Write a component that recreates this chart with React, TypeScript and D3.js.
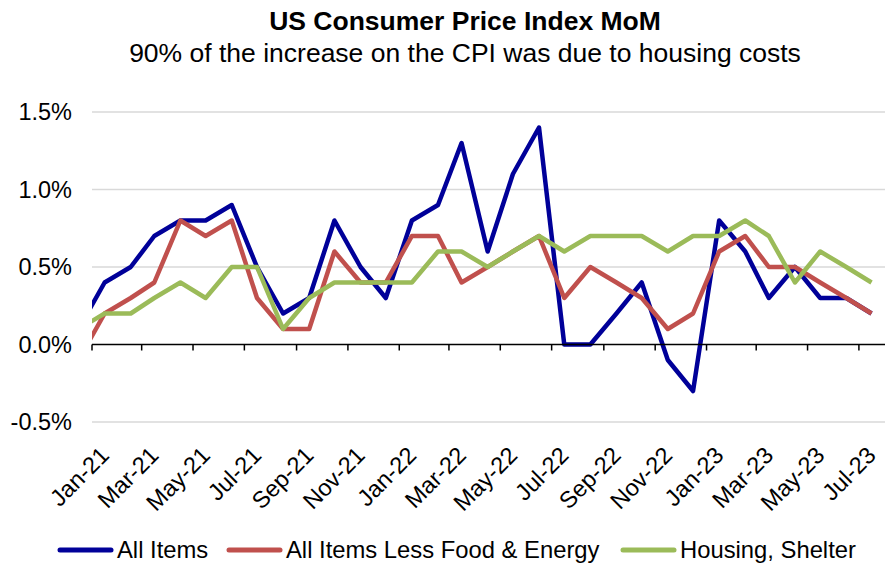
import React from 'react';
import * as d3 from 'd3';

// monthly observations, Dec-20 .. Jul-23 (Dec-20 is only partly visible at the left edge)
const MONTHS = [
  '2020-12',
  '2021-01', '2021-02', '2021-03', '2021-04', '2021-05', '2021-06',
  '2021-07', '2021-08', '2021-09', '2021-10', '2021-11', '2021-12',
  '2022-01', '2022-02', '2022-03', '2022-04', '2022-05', '2022-06',
  '2022-07', '2022-08', '2022-09', '2022-10', '2022-11', '2022-12',
  '2023-01', '2023-02', '2023-03', '2023-04', '2023-05', '2023-06', '2023-07',
];

const ALL_ITEMS = [
  0.1,
  0.4, 0.5, 0.7, 0.8, 0.8, 0.9, 0.5, 0.2, 0.3, 0.8, 0.5, 0.3,
  0.8, 0.9, 1.3, 0.6, 1.1, 1.4, 0.0, 0.0, 0.2, 0.4, -0.1, -0.3,
  0.8, 0.6, 0.3, 0.5, 0.3, 0.3, 0.2,
];

const CORE = [
  -0.1,
  0.2, 0.3, 0.4, 0.8, 0.7, 0.8, 0.3, 0.1, 0.1, 0.6, 0.4, 0.4,
  0.7, 0.7, 0.4, 0.5, 0.6, 0.7, 0.3, 0.5, 0.4, 0.3, 0.1, 0.2,
  0.6, 0.7, 0.5, 0.5, 0.4, 0.3, 0.2,
];

const SHELTER = [
  0.1,
  0.2, 0.2, 0.3, 0.4, 0.3, 0.5, 0.5, 0.1, 0.3, 0.4, 0.4, 0.4,
  0.4, 0.6, 0.6, 0.5, 0.6, 0.7, 0.6, 0.7, 0.7, 0.7, 0.6, 0.7,
  0.7, 0.8, 0.7, 0.4, 0.6, 0.5, 0.4,
];

const SERIES = [
  { name: 'All Items', values: ALL_ITEMS, color: '#000099' },
  { name: 'All Items Less Food & Energy', values: CORE, color: '#C0504D' },
  { name: 'Housing, Shelter', values: SHELTER, color: '#9BBB59' },
];

const Y_TICKS = [-0.5, 0, 0.5, 1.0, 1.5];

const TITLE = 'US Consumer Price Index MoM';
const SUBTITLE = '90% of the increase on the CPI was due to housing costs';

const W = 896, H = 565;
const FONT = "'Liberation Sans', Arial, sans-serif";
const m = { l: 92, r: 11, t: 112, b: 143 };

const parse = d3.timeParse('%Y-%m');
// plot each month at its middle
const midMonth = (d: Date) => d3.timeDay.offset(d, 15);
// excel style: plain hyphen for negatives
const pct = (v: number) => d3.format('.1f')(v).replace('\u2212', '-') + '%';

export default function App() {
  const x = d3.scaleTime()
    .domain([new Date(2021, 0, 1), new Date(2023, 7, 1)])
    .range([m.l, W - m.r]);
  const y = d3.scaleLinear().domain([-0.5, 1.5]).range([H - m.b, m.t]);

  const ticks = d3.timeMonth.every(2)!.range(new Date(2021, 0, 1), new Date(2023, 7, 1));
  const fmt = d3.timeFormat('%b-%y');

  const line = d3.line<number>()
    .x((_, i) => x(midMonth(parse(MONTHS[i])!)))
    .y(v => y(v));

  return (
    <svg width={W} height={H} style={{ position: 'absolute', left: 0, top: 0, background: '#fff' }} fontFamily={FONT}>
      <defs>
        <clipPath id="plot">
          <rect x={m.l} y={0} width={W - m.r - m.l} height={H} />
        </clipPath>
      </defs>

      <text x={465} y={30} textAnchor="middle" fontSize={26.5} fontWeight="bold">{TITLE}</text>
      <text x={465} y={62} textAnchor="middle" fontSize={26.5}>{SUBTITLE}</text>

      {/* gridlines + y labels */}
      {Y_TICKS.map(t => (
        <g key={t}>
          {t !== 0 && (
            <line x1={m.l} x2={W - m.r} y1={y(t)} y2={y(t)} stroke="#d9d9d9" strokeWidth={1.5} />
          )}
          <text x={72} y={y(t)} dy="0.35em" textAnchor="end" fontSize={23.5}>{pct(t)}</text>
        </g>
      ))}

      {/* series */}
      <g clipPath="url(#plot)">
        {SERIES.map(s => (
          <path key={s.name} d={line(s.values)!} fill="none" stroke={s.color}
            strokeWidth={4.5} strokeLinejoin="round" />
        ))}
      </g>

      {/* zero axis + ticks */}
      <line x1={m.l} x2={W - m.r} y1={y(0)} y2={y(0)} stroke="#000" strokeWidth={1.5} />
      {ticks.map(t => (
        <line key={+t} x1={x(t)} x2={x(t)} y1={y(0)} y2={y(0) + 6} stroke="#000" strokeWidth={1.5} />
      ))}

      {/* x labels */}
      {ticks.map(t => (
        <text key={+t} transform={`translate(${x(midMonth(t))},${451}) rotate(-45)`}
          textAnchor="end" dy="0.35em" fontSize={23.5}>{fmt(t)}</text>
      ))}

      {/* legend */}
      {(() => {
        const xs = [60, 229, 623];
        return SERIES.map((s, i) => (
          <g key={s.name} transform={`translate(${xs[i]},550)`}>
            <line x1={0} x2={51} y1={0} y2={0} stroke={s.color} strokeWidth={5} strokeLinecap="round" />
            <text x={57} y={0} dy="0.35em" fontSize={23.8}>{s.name}</text>
          </g>
        ));
      })()}
    </svg>
  );
}
